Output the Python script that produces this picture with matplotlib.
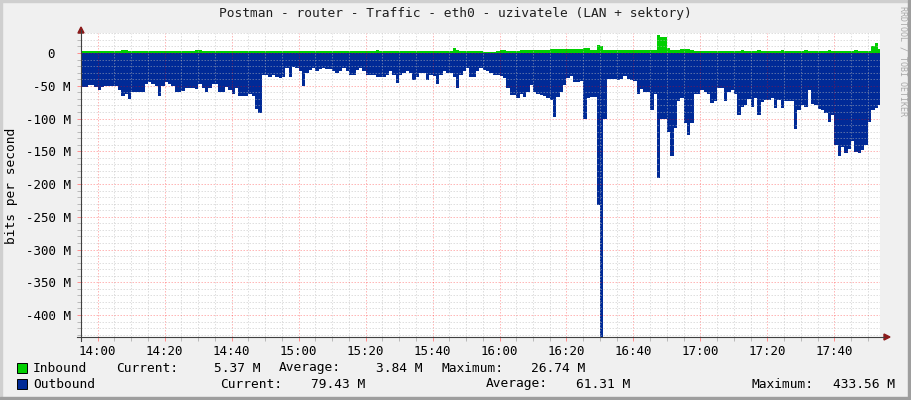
import matplotlib
matplotlib.use('Agg')
import matplotlib.pyplot as plt
from matplotlib.patches import Rectangle, Polygon
from matplotlib.lines import Line2D
import numpy as np

W, H = 911, 400

# one sample per minute, first one at 13:55 (minute -5 from 14:00)
start_minute = -5

inbound = [
    2.5, 2.5, 2.5, 2.5, 2.5,
    2.5, 2.5, 2.5, 2.5, 2.5, 2.5, 3, 4.5, 4.5, 3,
    2.5, 2.5, 2.5, 3, 2.5, 2.5, 2.5, 3, 2.5, 2.5,
    2.5, 2.5, 3, 2.5, 2.5, 2.5, 2.5, 2.5, 3, 4.5,
    4.5, 2.5, 2.5, 2.5, 2.5, 2.5, 2.5, 2.5, 2.5, 2.5,
    2.5, 3, 2.5, 2.5, 3, 3.5, 3, 2.5, 2.5, 2.5,
    2.5, 2.5, 2.5, 2.5, 2.5, 2.5, 2.5, 2.5, 2.5, 3,
    3, 2.5, 2.5, 2.5, 2.5, 2.5, 2.5, 2.5, 3, 2.5,
    2.5, 2.5, 2.5, 2.5, 3, 2.5, 2.5, 2.5, 2.5, 2.5,
    2.5, 2.5, 3, 4.5, 3, 2.5, 2.5, 2.5, 2.5, 2.5,
    2.5, 3, 2.5, 2.5, 2.5, 2.5, 2.5, 3, 2.5, 2.5,
    2.5, 2.5, 2.5, 2.5, 2.5, 3, 8, 4, 2.5, 2.5,
    2.5, 2.5, 3, 2.5, 2.5, 2, 2, 2, 2, 2.5,
    4.5, 4.5, 3, 3, 3, 3, 4.5, 4.5, 4.5, 4.5,
    4.5, 4.5, 4.5, 4.5, 4.5, 5.5, 5.5, 5.5, 5.5, 5.5,
    5.5, 5.5, 5.5, 5.5, 5.5, 7, 7, 4.5, 4.5, 12,
    10, 4.5, 4.5, 4.5, 4.5, 4.5, 4.5, 4.5, 4.5, 4.5,
    4.5, 4.5, 4.5, 4.5, 4.5, 4.5, 5, 26.74, 25, 24,
    7, 5, 4.5, 4.5, 6, 6, 6, 5, 3.5, 3.5,
    3.5, 3.5, 3.5, 3.5, 3.5, 3.5, 3.5, 3.5, 3.5, 3.5,
    3.5, 3.5, 4, 3.5, 3.5, 3.5, 3.5, 4, 3.5, 3.5,
    3.5, 3.5, 3.5, 3.5, 4, 3.5, 3.5, 3.5, 3.5, 3.5,
    3.5, 4, 3.5, 3.5, 3.5, 3.5, 3.5, 3.5, 4, 3.5,
    3.5, 3.5, 3.5, 3.5, 3.5, 3.5, 4, 3.5, 3.5, 3.5,
    3.5, 10, 15, 5.37,
]

outbound = [
    52, 52, 49, 49, 52,
    56, 52, 50, 50, 50, 50, 56, 66, 62, 70,
    60, 59, 59, 59, 48, 44, 48, 51, 66, 50,
    44, 48, 51, 60, 60, 58, 54, 54, 53, 55,
    47, 54, 60, 54, 47, 48, 59, 59, 52, 56,
    62, 54, 65, 65, 65, 62, 66, 85, 92, 34,
    34, 37, 34, 36, 38, 36, 23, 36, 22, 23,
    28, 51, 31, 26, 23, 27, 25, 23, 24, 25,
    27, 30, 27, 23, 28, 33, 34, 26, 23, 27,
    33, 33, 34, 36, 37, 36, 33, 28, 34, 46,
    33, 30, 28, 31, 41, 36, 31, 30, 41, 33,
    35, 48, 34, 28, 31, 30, 36, 54, 34, 27,
    23, 36, 36, 28, 23, 26, 27, 31, 34, 33,
    35, 38, 54, 64, 64, 69, 62, 67, 59, 49,
    60, 62, 64, 65, 69, 72, 97, 67, 60, 49,
    38, 35, 45, 44, 43, 100, 69, 67, 67, 232,
    433.56, 100, 39, 39, 40, 41, 39, 35, 39, 41,
    43, 62, 55, 59, 60, 87, 62, 191, 100, 100,
    120, 158, 115, 74, 69, 107, 125, 107, 63, 62,
    56, 60, 62, 77, 74, 54, 54, 74, 59, 56,
    62, 95, 82, 80, 70, 82, 69, 95, 75, 72,
    72, 69, 84, 72, 84, 74, 74, 74, 116, 87,
    80, 83, 56, 78, 80, 86, 87, 92, 106, 95,
    140, 158, 143, 152, 146, 134, 151, 152, 148, 140,
    105, 87, 84, 79.43,
]

xtick_minutes = [0, 20, 40, 60, 80, 100, 120, 140, 160, 180, 200, 220]
xtick_labels = ['14:00', '14:20', '14:40', '15:00', '15:20', '15:40',
                '16:00', '16:20', '16:40', '17:00', '17:20', '17:40']
ytick_values = [0, -50, -100, -150, -200, -250, -300, -350, -400]
ytick_labels = ['0  ', '-50 M', '-100 M', '-150 M', '-200 M', '-250 M',
                '-300 M', '-350 M', '-400 M']

title = 'Postman - router - Traffic - eth0 - uzivatele (LAN + sektory)'
in_legend = [('Inbound', 33, 'left'), ('Current:', 116, 'left'), ('5.37 M', 261, 'right'),
             ('Average:', 279, 'left'), ('3.84 M', 423, 'right'),
             ('Maximum:', 441, 'left'), ('26.74 M', 585, 'right')]
out_legend = [('Outbound', 33, 'left'), ('Current:', 220, 'left'), ('79.43 M', 365, 'right'),
              ('Average:', 486, 'left'), ('61.31 M', 630, 'right'),
              ('Maximum:', 751, 'left'), ('433.56 M', 895, 'right')]

green = '#00CF00'
blue = '#002A97'

plt.rcParams['font.family'] = 'DejaVu Sans Mono'
plt.rcParams['font.size'] = 9

def fx(x):
    return x / W

def fy(y):
    return 1 - y / H

fig = plt.figure(figsize=(W / 100, H / 100), dpi=100, facecolor='#F0F0F0')

# frame shading
fig.patches.append(Rectangle((0, fy(2)), 1, 2 / H, transform=fig.transFigure, color='#CFCFCF', zorder=0))
fig.patches.append(Rectangle((0, 0), 2 / W, 1, transform=fig.transFigure, color='#CFCFCF', zorder=0))
fig.patches.append(Rectangle((fx(908), 0), 3 / W, 1, transform=fig.transFigure, color='#9E9E9E', zorder=0))
fig.patches.append(Rectangle((0, 0), 1, 3 / H, transform=fig.transFigure, color='#9E9E9E', zorder=0))

ax_top, ax_bot, ax_left, ax_right = 33.35, 337, 81, 880
ax = fig.add_axes([fx(ax_left), fy(ax_bot), (ax_right - ax_left) / W, (ax_bot - ax_top) / H])
ax.set_facecolor('white')

edges = np.arange(len(outbound) + 1) + start_minute
ax.stairs(inbound, edges, baseline=0, fill=True, color=green, lw=0)
ax.stairs(-np.array(outbound), edges, baseline=0, fill=True, color=blue, lw=0)

ax.set_xlim((ax_left - 97.3) / 3.35, (ax_right - 97.3) / 3.35)
ax.set_ylim(-433.56, 30)

ax.set_xticks(xtick_minutes)
ax.set_xticklabels(xtick_labels)
ax.set_xticks(np.arange(-5, 234, 5), minor=True)
ax.set_yticks(ytick_values)
ax.set_yticklabels(ytick_labels)
ax.set_yticks(np.arange(-430, 31, 10), minor=True)

ax.set_axisbelow(False)
ax.grid(which='minor', color='#BABABA', alpha=0.45, lw=0.72, linestyle=(0, (1.5, 1.5)))
ax.grid(which='major', color='#FF0000', alpha=0.28, lw=0.72, linestyle=(0, (1.5, 1.5)))
ax.tick_params(which='both', direction='out', length=3, width=0.72, labelsize=9)
ax.tick_params(which='minor', color='#BABABA')
ax.tick_params(which='major', color='#FF9090')
ax.tick_params(axis='x', which='major', pad=3)
ax.tick_params(axis='y', which='major', pad=4.5)
for s in ax.spines.values():
    s.set_visible(False)

# axes lines and arrows
fig.add_artist(Line2D([fx(77), fx(884)], [fy(337), fy(337)], transform=fig.transFigure, color='#404040', lw=0.8))
fig.add_artist(Line2D([fx(81), fx(81)], [fy(30), fy(341)], transform=fig.transFigure, color='#404040', lw=0.8))
fig.patches.append(Polygon([(fx(78), fy(33)), (fx(84), fy(33)), (fx(81), fy(27))], closed=True,
                           transform=fig.transFigure, color='#8B1A1A'))
fig.patches.append(Polygon([(fx(884), fy(334)), (fx(884), fy(340)), (fx(890), fy(337))], closed=True,
                           transform=fig.transFigure, color='#8B1A1A'))

fig.text(fx(455), fy(14), title, ha='center', va='center', fontsize=9.3, color='#202020')
fig.text(fx(12), fy(186), 'bits per second', rotation=90, ha='center', va='center', fontsize=9.3)
fig.text(fx(903), fy(6), 'RRDTOOL / TOBI OETIKER', rotation=270, ha='center', va='top',
         fontsize=6, color='#A8A8A8')

for txts, y, col in [(in_legend, 368, green), (out_legend, 384, blue)]:
    fig.patches.append(Rectangle((fx(17), fy(y + 5)), 10 / W, 10 / H, transform=fig.transFigure,
                                 facecolor=col, edgecolor='black', lw=0.7))
    for t, x, ha in txts:
        fig.text(fx(x), fy(y), t, ha=ha, va='center', fontsize=9.3)

fig.savefig('out.png', dpi=100, facecolor=fig.get_facecolor())
